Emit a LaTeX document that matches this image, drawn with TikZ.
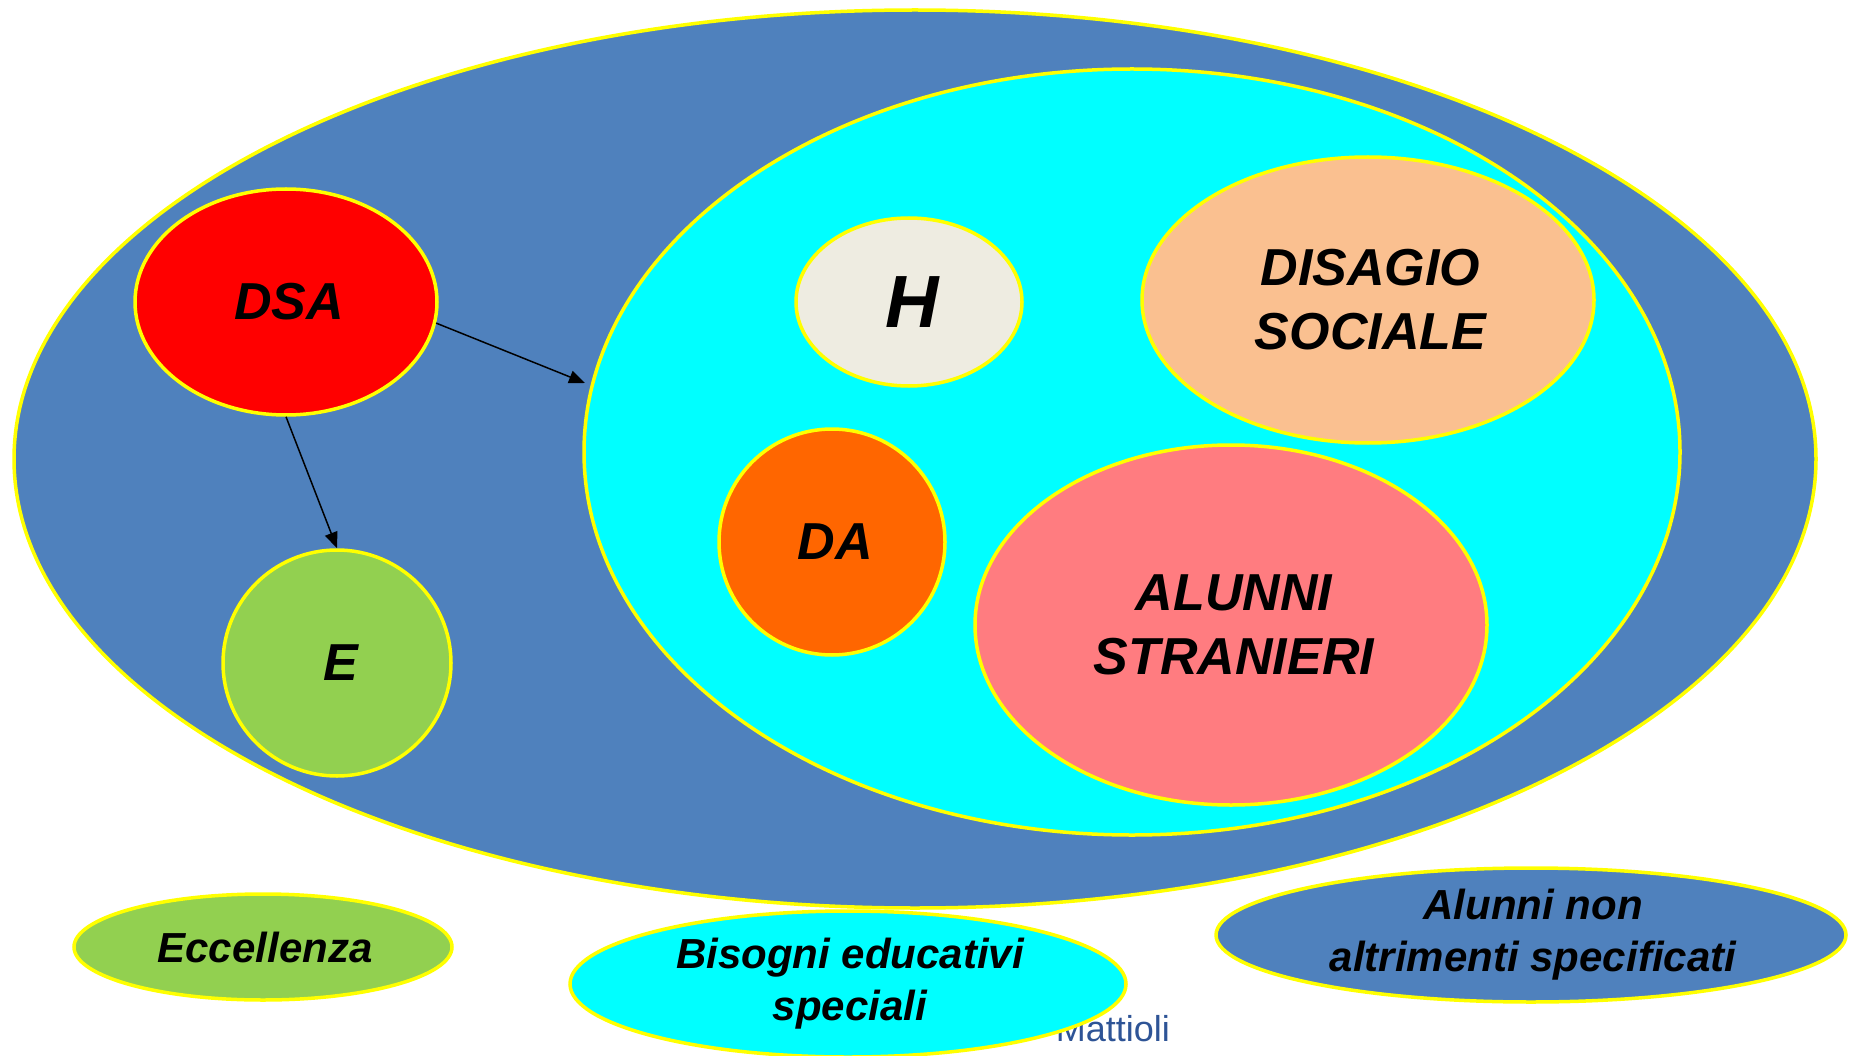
\documentclass[tikz,border=0pt]{standalone}
\usepackage{fontspec}
\setmainfont{Liberation Sans}
\usetikzlibrary{shapes.geometric,arrows.meta}
\definecolor{bigblue}{RGB}{79,129,189}
\definecolor{bescyan}{RGB}{0,255,255}
\definecolor{dsared}{RGB}{255,0,0}
\definecolor{egreen}{RGB}{146,208,80}
\definecolor{hgray}{RGB}{238,236,225}
\definecolor{dispeach}{RGB}{250,192,144}
\definecolor{daorange}{RGB}{255,102,0}
\definecolor{alpink}{RGB}{255,124,128}
\definecolor{byellow}{RGB}{255,255,0}
\definecolor{mattblue}{RGB}{46,84,150}
\begin{document}
\begin{tikzpicture}[x=1pt,y=-1pt,
  blob/.style={ellipse, draw=byellow, line width=3.5pt, inner sep=0pt, align=center},
  bigtext/.style={font=\fontsize{52}{64}\selectfont\bfseries\itshape},
  smalltext/.style={font=\fontsize{42}{52}\selectfont\bfseries\itshape},
  arr/.style={line width=1.5pt, -{Triangle[length=16pt,width=13pt]}}]
\useasboundingbox (0,0) rectangle (1849,1056);
\fill[white] (0,0) rectangle (1849,1056);
% outer
\node[blob, fill=bigblue, minimum width=1802pt, minimum height=898pt] (all) at (915,459) {};
\node[blob, fill=bescyan, minimum width=1096pt, minimum height=766pt] (bes) at (1132,452) {};
% inner
\node[blob, bigtext, fill=dsared, minimum width=302pt, minimum height=226pt] (dsa) at (286,302) {\hspace*{6pt}DSA};
\node[blob, bigtext, fill=egreen, minimum width=228pt, minimum height=226pt] (e) at (337,663) {\hspace*{8pt}E};
\node[blob, fill=hgray, minimum width=226pt, minimum height=168pt, font=\fontsize{74}{80}\selectfont\bfseries\itshape] (h) at (909,302) {\hspace*{6pt}H};
\node[blob, bigtext, fill=dispeach, minimum width=452pt, minimum height=286pt] (dis) at (1368,300) {\hspace*{5pt}DISAGIO\\\hspace*{5pt}SOCIALE};
\node[blob, bigtext, fill=daorange, minimum width=226pt, minimum height=226pt] (da) at (832,542) {\hspace*{6pt}DA};
\node[blob, bigtext, fill=alpink, minimum width=512pt, minimum height=360pt] (al) at (1231,625) {\hspace*{6pt}ALUNNI\\\hspace*{6pt}STRANIERI};
% arrows
\coordinate (bestip) at (585,383);
\draw[arr] (dsa.-8) -- (bestip);
\draw[arr] (dsa.south) -- (e.north);
% bottom legend
\node[blob, smalltext, fill=egreen, minimum width=378pt, minimum height=106pt] (ecc) at (263,947) {\hspace*{4pt}Eccellenza};
\node[anchor=base east, text=mattblue, font=\fontsize{36}{40}\selectfont, inner sep=0pt] (mat) at (1170,1041) {Mattioli};
\node[blob, smalltext, fill=bescyan, minimum width=556pt, minimum height=146pt] (bisogni) at (848,984) {\hspace*{4pt}Bisogni educativi\\\hspace*{4pt}speciali};
\node[blob, smalltext, fill=bigblue, minimum width=630pt, minimum height=134pt] (anas) at (1531,935) {\hspace*{4pt}Alunni non\\\hspace*{4pt}altrimenti specificati};
\end{tikzpicture}
\end{document}
